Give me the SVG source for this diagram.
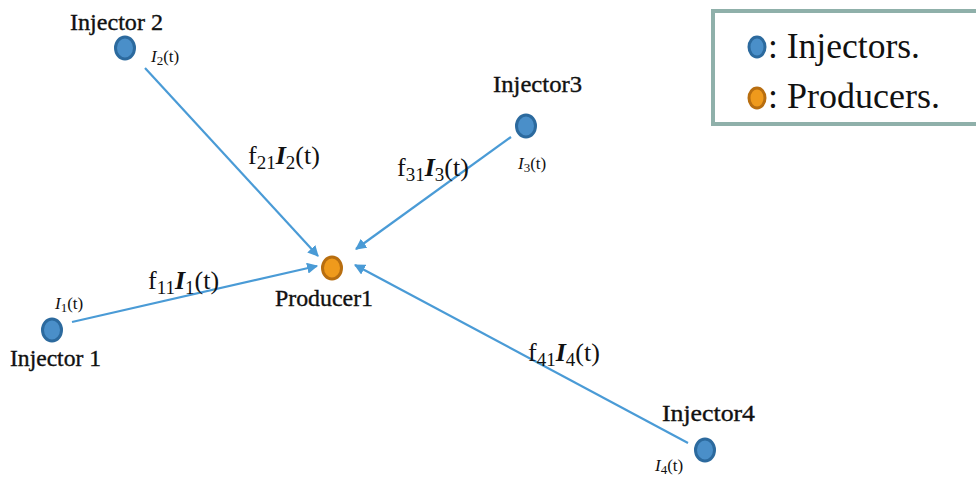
<svg xmlns="http://www.w3.org/2000/svg" width="976" height="478" viewBox="0 0 976 478">
<defs>
<marker id="ah" viewBox="0 0 10 10" refX="9" refY="5" markerWidth="5" markerHeight="5" orient="auto" markerUnits="strokeWidth">
<path d="M0,0 L10,5 L0,10 z" fill="#4a9bd6"/>
</marker>
<style>
.inj{fill:#4a8fc9;stroke:#2c6a9e;stroke-width:3}
.prod{fill:#ef9a1c;stroke:#b86e10;stroke-width:3}
.edge{stroke:#4a9bd6;stroke-width:2.2;fill:none}
.lbl{stroke:#111;stroke-width:0.35}
</style>
</defs>
<rect width="976" height="478" fill="#fff"/>
<g id="connectors">
<line class="edge" marker-end="url(#ah)" x1="145" y1="68" x2="318" y2="256"/>
<line class="edge" marker-end="url(#ah)" x1="511" y1="137" x2="356" y2="249"/>
<line class="edge" marker-end="url(#ah)" x1="72" y1="322" x2="317" y2="266"/>
<line class="edge" marker-end="url(#ah)" x1="688" y1="443" x2="355" y2="265"/>
</g>
<g id="edge-labels" font-family="'Liberation Serif', serif" font-size="26" fill="#111">
<text x="248" y="164">f<tspan font-size="19" dy="5">21</tspan><tspan dy="-5" font-style="italic" font-weight="bold">I</tspan><tspan font-size="19" dy="5">2</tspan><tspan dy="-5">(t)</tspan></text>
<text x="397" y="176">f<tspan font-size="19" dy="5">31</tspan><tspan dy="-5" font-style="italic" font-weight="bold">I</tspan><tspan font-size="19" dy="5">3</tspan><tspan dy="-5">(t)</tspan></text>
<text x="148" y="289">f<tspan font-size="19" dy="5">11</tspan><tspan dy="-5" font-style="italic" font-weight="bold">I</tspan><tspan font-size="19" dy="5">1</tspan><tspan dy="-5">(t)</tspan></text>
<text x="528" y="361">f<tspan font-size="19" dy="5">41</tspan><tspan dy="-5" font-style="italic" font-weight="bold">I</tspan><tspan font-size="19" dy="5">4</tspan><tspan dy="-5">(t)</tspan></text>
</g>
<g id="injector2" font-family="'Liberation Serif', serif" fill="#111">
<ellipse class="inj" cx="125" cy="48" rx="9.5" ry="11"/>
<text class="lbl" x="70" y="30" font-size="23" textLength="93" lengthAdjust="spacingAndGlyphs">Injector 2</text>
<text x="151" y="62" font-size="17"><tspan font-style="italic">I</tspan><tspan font-size="13" dy="3">2</tspan><tspan dy="-3">(t)</tspan></text>
</g>
<g id="injector3" font-family="'Liberation Serif', serif" fill="#111">
<ellipse class="inj" cx="526" cy="126" rx="9.5" ry="11"/>
<text class="lbl" x="493" y="92" font-size="23" textLength="89" lengthAdjust="spacingAndGlyphs">Injector3</text>
<text x="518" y="169" font-size="17"><tspan font-style="italic">I</tspan><tspan font-size="13" dy="3">3</tspan><tspan dy="-3">(t)</tspan></text>
</g>
<g id="injector1" font-family="'Liberation Serif', serif" fill="#111">
<ellipse class="inj" cx="52" cy="330" rx="9.5" ry="11"/>
<text class="lbl" x="10" y="366" font-size="23" textLength="91" lengthAdjust="spacingAndGlyphs">Injector 1</text>
<text x="55" y="309" font-size="17"><tspan font-style="italic">I</tspan><tspan font-size="13" dy="3">1</tspan><tspan dy="-3">(t)</tspan></text>
</g>
<g id="injector4" font-family="'Liberation Serif', serif" fill="#111">
<ellipse class="inj" cx="705" cy="450" rx="9.5" ry="11"/>
<text class="lbl" x="662" y="421" font-size="23" textLength="93" lengthAdjust="spacingAndGlyphs">Injector4</text>
<text x="655" y="471" font-size="17"><tspan font-style="italic">I</tspan><tspan font-size="13" dy="3">4</tspan><tspan dy="-3">(t)</tspan></text>
</g>
<g id="producer1" font-family="'Liberation Serif', serif" fill="#111">
<ellipse class="prod" cx="332" cy="268" rx="9.5" ry="11"/>
<text class="lbl" x="275" y="306" font-size="23" textLength="98" lengthAdjust="spacingAndGlyphs">Producer1</text>
</g>
<g id="legend" font-family="'Liberation Serif', serif" fill="#111">
<rect x="713" y="11" width="270" height="113" fill="#fff" stroke="#8fb0aa" stroke-width="4"/>
<ellipse class="inj" cx="757" cy="47" rx="8" ry="10"/>
<text x="768" y="58" font-size="36" textLength="152" lengthAdjust="spacingAndGlyphs">: Injectors.</text>
<ellipse class="prod" cx="757" cy="98" rx="8" ry="10"/>
<text x="768" y="108" font-size="36" textLength="172" lengthAdjust="spacingAndGlyphs">: Producers.</text>
</g>
</svg>
